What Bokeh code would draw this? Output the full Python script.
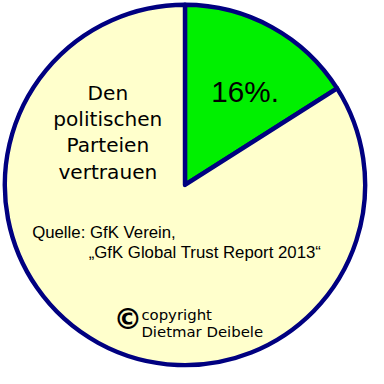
from math import pi
from bokeh.plotting import figure
from bokeh.models import Range1d, ColumnDataSource
from bokeh.core.properties import value
from bokeh.embed import file_html
from bokeh.resources import INLINE

# data
categories = ["Vertrauen", "Kein Vertrauen"]
shares = [16, 84]
colors = ["#00f000", "#ffffcc"]
pct_label = "16%."
title_lines = ["Den", "politischen", "Parteien", "vertrauen"]
source_lines = ["Quelle: GfK Verein,", "\u201eGfK Global Trust Report 2013\u201c"]
copyright_lines = ["copyright", "Dietmar Deibele"]

W = 368
S = W / 384.0  # px per data unit

p = figure(width=W, height=W, output_backend="svg", toolbar_location=None,
           x_range=Range1d(0, 384), y_range=Range1d(0, 384), min_border=0)
p.axis.visible = False
p.grid.visible = False
p.outline_line_color = None
p.background_fill_color = "white"
p.border_fill_color = "white"

total = float(sum(shares))
starts, ends = [], []
a = pi / 2
for s in shares:
    starts.append(a)
    a = a - 2 * pi * s / total
    ends.append(a)

cx, cy, r = 192.5, 384 - 192.5, 188
src = ColumnDataSource(dict(cat=categories, start=starts, end=ends, color=colors))
p.wedge(x=cx, y=cy, radius=r, start_angle="start", end_angle="end", direction="clock",
        fill_color="color", line_color="#000080", line_width=4.6 * S, line_join="round",
        source=src)

def H(y):
    return 384 - y

p.text(x=[220], y=[H(95)], text=[pct_label], text_font=value("Liberation Sans"),
       text_font_size=f"{31*S:.1f}px", text_color="black", text_baseline="alphabetic",
       text_align="left")

p.text(x=[112] * 4, y=[H(97), H(124), H(151), H(179)], text=title_lines,
       text_font=value("DejaVu Sans"), text_font_size=f"{21*S:.1f}px", text_color="black",
       text_baseline="alphabetic", text_align="center")

p.text(x=[33, 92], y=[H(242), H(263)], text=source_lines,
       text_font=value("Liberation Sans"), text_font_size=f"{17.5*S:.1f}px", text_color="black",
       text_baseline="alphabetic", text_align="left")

p.text(x=[133], y=[H(332)], text=["\u00a9"], text_font=value("DejaVu Sans"),
       text_font_size=f"{30*S:.1f}px", text_font_style="bold", text_color="black",
       text_baseline="middle", text_align="center")
p.text(x=[147, 147], y=[H(328), H(346)], text=copyright_lines,
       text_font=value("DejaVu Sans"), text_font_size=f"{15.5*S:.1f}px", text_color="black",
       text_baseline="alphabetic", text_align="left")

open("out.html", "w").write(file_html(p, INLINE))
